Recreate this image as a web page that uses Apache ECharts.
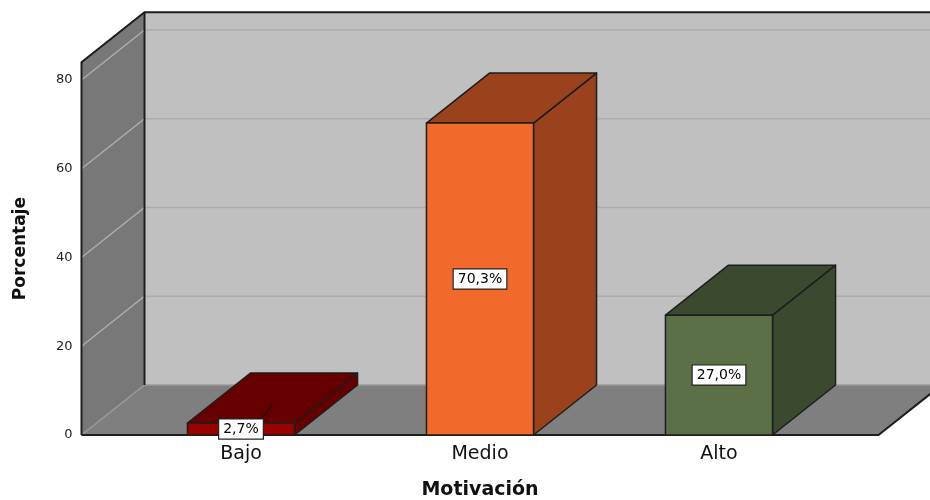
<!DOCTYPE html>
<html>
<head>
<meta charset="utf-8">
<script src="https://cdn.jsdelivr.net/npm/echarts@6/dist/echarts.min.js"></script>
<style>
  html, body { margin: 0; padding: 0; background: #ffffff; }
  #chart { width: 930px; height: 500px; }
</style>
</head>
<body>
<div id="chart"></div>
<script>
// Motivación: percentage per level
const categories = ['Bajo', 'Medio', 'Alto'];
const percentages = [2.7, 70.3, 27.0];
const yTicks = [0, 20, 40, 60, 80];

// bar face colours (front / top-and-side)
const frontColors = ['#990000', '#f26a2b', '#5b7047'];
const shadeColors = ['#660000', '#9a421b', '#3b4a2f'];

// depth of the pseudo-3D box
const DX = 63, DY = -50;
const EDGE = '#1e1e1e';

const chart = echarts.init(document.getElementById('chart'));

function fmt(v) {
  return v.toFixed(1).replace('.', ',') + '%';
}

// walls, floor and gridlines of the box
function renderFrame(params, api) {
  const cs = params.coordSys;
  const x0 = cs.x - 40, x1 = cs.x + cs.width + 40;
  const yBase = api.coord([0, 0])[1];
  const yTop = cs.y;
  const children = [
    { type: 'polygon', shape: { points: [[x0, yTop], [x0 + DX, yTop + DY], [x0 + DX, yBase + DY], [x0, yBase]] },
      style: { fill: '#787878' } },
    { type: 'rect', shape: { x: x0 + DX, y: yTop + DY, width: x1 - x0 + 20, height: yBase - yTop },
      style: { fill: '#c0c0c0' } },
    { type: 'polygon', shape: { points: [[x0, yBase], [x0 + DX, yBase + DY], [x1 + DX, yBase + DY], [x1, yBase]] },
      style: { fill: '#7f7f7f' } }
  ];
  yTicks.forEach(function (v) {
    const y = api.coord([0, v])[1];
    children.push({
      type: 'polyline',
      shape: { points: [[x0, y], [x0 + DX, y + DY], [x1 + DX + 20, y + DY]] },
      style: { stroke: v === 0 ? '#9a9a9a' : '#acacac', lineWidth: 1.5, fill: null }
    });
  });
  // box edges
  children.push({
    type: 'polyline',
    shape: { points: [[x0, yBase], [x0, yTop], [x0 + DX, yTop + DY], [x1 + DX + 20, yTop + DY]] },
    style: { stroke: EDGE, lineWidth: 2, fill: null }
  });
  children.push({
    type: 'line',
    shape: { x1: x0 + DX, y1: yTop + DY, x2: x0 + DX, y2: yBase + DY },
    style: { stroke: EDGE, lineWidth: 2 }
  });
  children.push({
    type: 'polyline',
    shape: { points: [[x0, yBase], [x1, yBase], [x1 + DX, yBase + DY]] },
    style: { stroke: EDGE, lineWidth: 2, fill: null }
  });
  return { type: 'group', children: children };
}

// one 3D bar with its value label
function renderBar(params, api) {
  const idx = api.value(0);
  const val = api.value(1);
  const base = api.coord([idx, 0]);
  const top = api.coord([idx, val]);
  const cx = base[0], yb = base[1], yt = top[1];
  const bw = api.size([1, 0])[0] * 0.448;
  const l = cx - bw / 2, r = cx + bw / 2;
  const stroke = { stroke: EDGE, lineWidth: 1.5, lineJoin: 'round' };
  const mid = (yt + yb) / 2;
  const children = [
    { type: 'polygon', shape: { points: [[r, yt], [r + DX, yt + DY], [r + DX, yb + DY], [r, yb]] },
      style: Object.assign({ fill: shadeColors[idx] }, stroke) },
    { type: 'polygon', shape: { points: [[l, yt], [l + DX, yt + DY], [r + DX, yt + DY], [r, yt]] },
      style: Object.assign({ fill: shadeColors[idx] }, stroke) },
    { type: 'rect', shape: { x: l, y: yt, width: bw, height: yb - yt },
      style: Object.assign({ fill: frontColors[idx] }, stroke) }
  ];
  if (yb - yt < 22) {
    children.push({
      type: 'line',
      shape: { x1: cx + 21, y1: mid - 10, x2: cx + 31, y2: mid - 25 },
      style: { stroke: '#111', lineWidth: 1.2 }
    });
  }
  children.push({
    type: 'text',
    x: cx, y: mid,
    style: {
      text: fmt(val),
      align: 'center', verticalAlign: 'middle',
      font: '14px "DejaVu Sans"',
      fill: '#000',
      backgroundColor: '#ffffff',
      borderColor: '#222222', borderWidth: 1.2,
      padding: [3, 4, 2, 4]
    }
  });
  return { type: 'group', children: children };
}

chart.setOption({
  animation: false,
  backgroundColor: '#ffffff',
  grid: { left: 121.5, right: 91.5, top: 62.25, bottom: 65, containLabel: false, outerBoundsMode: 'none' },
  xAxis: {
    type: 'category',
    data: categories,
    axisLine: { show: false },
    axisTick: { show: false },
    axisLabel: { margin: 10, fontFamily: 'DejaVu Sans', fontSize: 19, color: '#111' },
    name: 'Motivación',
    nameLocation: 'middle',
    nameGap: 46,
    nameTextStyle: { fontFamily: 'DejaVu Sans', fontWeight: 'bold', fontSize: 19, color: '#111' }
  },
  yAxis: {
    type: 'value',
    min: 0, max: 84, interval: 20,
    axisLine: { show: false },
    axisTick: { show: false },
    splitLine: { show: false },
    axisLabel: { margin: 49, fontFamily: 'DejaVu Sans', fontSize: 13, color: '#222', showMaxLabel: false },
    name: 'Porcentaje',
    nameLocation: 'middle',
    nameRotate: 90,
    nameGap: 92,
    nameTextStyle: { fontFamily: 'DejaVu Sans', fontWeight: 'bold', fontSize: 17, color: '#111' }
  },
  series: [
    { type: 'custom', z: 1, silent: true, data: [[0, 0]], renderItem: renderFrame },
    { type: 'custom', z: 2, data: categories.map(function (c, i) { return [i, percentages[i]]; }), renderItem: renderBar }
  ]
});
</script>
</body>
</html>
